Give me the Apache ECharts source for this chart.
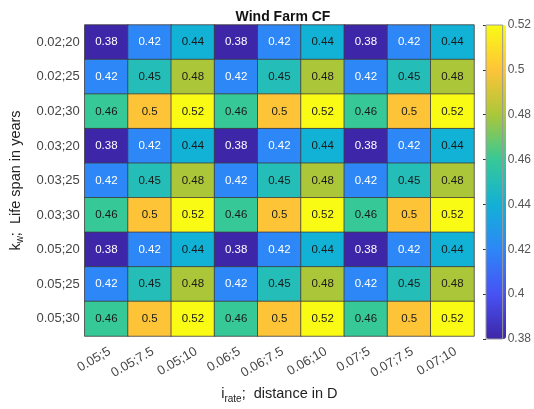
<!DOCTYPE html>
<html>
<head>
<meta charset="utf-8">
<script src="https://cdn.jsdelivr.net/npm/echarts@6/dist/echarts.min.js"></script>
<style>html,body{margin:0;padding:0;background:#fff;}#c{width:534px;height:409px;}</style>
</head>
<body>
<div id="c"></div>
<script>
const xCategories = ['0.05;5','0.05;7.5','0.05;10','0.06;5','0.06;7.5','0.06;10','0.07;5','0.07;7.5','0.07;10'];
const yCategories = ['0.02;20','0.02;25','0.02;30','0.03;20','0.03;25','0.03;30','0.05;20','0.05;25','0.05;30'];
const values = [
  [0.38,0.42,0.44,0.38,0.42,0.44,0.38,0.42,0.44],
  [0.42,0.45,0.48,0.42,0.45,0.48,0.42,0.45,0.48],
  [0.46,0.50,0.52,0.46,0.50,0.52,0.46,0.50,0.52],
  [0.38,0.42,0.44,0.38,0.42,0.44,0.38,0.42,0.44],
  [0.42,0.45,0.48,0.42,0.45,0.48,0.42,0.45,0.48],
  [0.46,0.50,0.52,0.46,0.50,0.52,0.46,0.50,0.52],
  [0.38,0.42,0.44,0.38,0.42,0.44,0.38,0.42,0.44],
  [0.42,0.45,0.48,0.42,0.45,0.48,0.42,0.45,0.48],
  [0.46,0.50,0.52,0.46,0.50,0.52,0.46,0.50,0.52]
];
const colorbarMin = 0.38, colorbarMax = 0.52, colorbarStep = 0.02;
const parula = ['#3e26a8','#4752f4','#2d87f7','#12b1d6','#37c897','#abc739','#fec438','#f9fb14'];

const data = [];
values.forEach((row, yi) => row.forEach((v, xi) => {
  data.push({value: [xi, yi, v], label: {color: v <= 0.42 ? '#ffffff' : '#1a1a1a'}});
}));

const font = 'Liberation Sans, Arial, Helvetica, sans-serif';
const chart = echarts.init(document.getElementById('c'));
chart.setOption({
  animation: false,
  backgroundColor: '#ffffff',
  title: {
    text: 'Wind Farm CF', left: 278, top: 5, textAlign: 'center',
    textStyle: {fontFamily: font, fontSize: 14, fontWeight: 'bold', color: '#111'}
  },
  grid: [
    {left: 83, top: 25, width: 391, height: 314, containLabel: false},
    {left: 486, top: 25, width: 20, height: 314, show: true, borderColor: '#9a9a9a', borderWidth: 1, backgroundColor: 'transparent', z: 6}
  ],
  xAxis: [
    {type: 'category', data: xCategories, gridIndex: 0,
     axisLine: {show: false}, axisTick: {show: false}, splitArea: {show: false},
     axisLabel: {rotate: 30, margin: 9, verticalAlign: 'top', fontFamily: font, fontSize: 13, color: '#444'},
     name: '{a|i}{sub|rate}{a|;  distance in D}', nameLocation: 'middle', nameGap: 48,
     nameTextStyle: {rich: {a: {fontFamily: font, fontSize: 14.5, color: '#222'}, sub: {fontFamily: font, fontSize: 10, color: '#222', padding: [10,0,0,0]}}}
    },
    {type: 'value', gridIndex: 1, show: false, min: 0, max: 1}
  ],
  yAxis: [
    {type: 'category', data: yCategories, inverse: true, gridIndex: 0,
     axisLine: {show: false}, axisTick: {show: false},
     axisLabel: {margin: 5, fontFamily: font, fontSize: 13, color: '#444'},
     name: '{a|k}{sub|w}{a|;  Life span in years}', nameLocation: 'middle', nameGap: 53,
     nameTextStyle: {rich: {a: {fontFamily: font, fontSize: 14.5, color: '#222'}, sub: {fontFamily: font, fontSize: 10, color: '#222', padding: [10,0,0,0]}}}
    },
    {type: 'value', gridIndex: 1, position: 'right', min: colorbarMin, max: colorbarMax, interval: colorbarStep,
     axisLine: {show: false}, splitLine: {show: false},
     axisTick: {show: true, inside: true, length: 3, lineStyle: {color: '#333'}},
     axisLabel: {margin: 5, fontFamily: font, fontSize: 12, color: '#555'}
    }
  ],
  visualMap: {
    type: 'continuous', min: colorbarMin, max: colorbarMax, calculable: false,
    orient: 'vertical', left: 486, top: 25, itemWidth: 20, itemHeight: 314, padding: 0,
    inRange: {color: parula}, seriesIndex: 0, show: true, hoverLink: false
  },
  series: [{
    type: 'heatmap', xAxisIndex: 0, yAxisIndex: 0, data: data,
    itemStyle: {borderColor: '#3c3c3c', borderWidth: 0.8},
    label: {show: true, fontFamily: font, fontSize: 11.5, formatter: p => String(+p.value[2].toFixed(2))},
    emphasis: {disabled: true}
  }]
});
</script>
</body>
</html>
